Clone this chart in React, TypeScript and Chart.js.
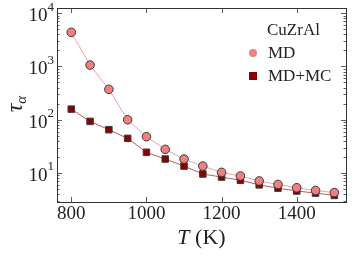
import React, { useEffect, useRef } from "react";
import { Chart, registerables } from "chart.js";

Chart.register(...registerables);

const temperatures = [800, 850, 900, 950, 1000, 1050, 1100, 1150, 1200, 1250, 1300, 1350, 1400, 1450, 1500];
const tauMD = [4360, 1060, 372, 100, 48, 27.8, 18.3, 13.5, 10.3, 8.8, 7.1, 6.1, 5.3, 4.7, 4.3];
const tauMDMC = [158, 93, 65, 44.7, 24.5, 18.3, 13.5, 9.6, 8.4, 7.3, 6.0, 5.2, 4.6, 4.2, 3.8];
const xTicks = [800, 1000, 1200, 1400];
const yDecades = [10, 100, 1000, 10000];
const legendTitle = "CuZrAl";
const seriesLabels = ["MD", "MD+MC"];

const SERIF = "'Liberation Serif', 'Times New Roman', serif";
const FRAME = "#333333";

const framePlugin = {
  id: "mplFrame",
  afterDraw(chart: any) {
    const ctx = chart.ctx;
    const { left, right, top, bottom } = chart.chartArea;
    const xs = chart.scales.x;
    const ys = chart.scales.y;
    ctx.save();
    ctx.strokeStyle = FRAME;
    ctx.lineWidth = 1;
    ctx.strokeRect(Math.round(left) + 0.5, Math.round(top) + 0.5, Math.round(right - left), Math.round(bottom - top));
    ctx.lineWidth = 0.8;
    ctx.beginPath();
    for (const v of xTicks) {
      const px = Math.round(xs.getPixelForValue(v)) + 0.5;
      ctx.moveTo(px, bottom);
      ctx.lineTo(px, bottom - 5);
      ctx.moveTo(px, top);
      ctx.lineTo(px, top + 5);
    }
    const ymin = ys.min, ymax = ys.max;
    for (let e = 0; e <= 4; e++) {
      for (let k = 1; k <= 9; k++) {
        const v = k * Math.pow(10, e);
        if (v < ymin || v > ymax) continue;
        const py = Math.round(ys.getPixelForValue(v)) + 0.5;
        const len = k === 1 ? 5 : 2.5;
        ctx.moveTo(left, py);
        ctx.lineTo(left + len, py);
        ctx.moveTo(right, py);
        ctx.lineTo(right - len, py);
      }
    }
    ctx.stroke();

    ctx.fillStyle = "#222";
    for (const v of yDecades) {
      if (v < ymin || v > ymax) continue;
      const py = ys.getPixelForValue(v);
      const exp = String(Math.round(Math.log10(v)));
      ctx.font = `13px ${SERIF}`;
      ctx.textAlign = "right";
      ctx.textBaseline = "middle";
      const expW = ctx.measureText(exp).width;
      const xr = left - 3;
      ctx.fillText(exp, xr, py - 6);
      ctx.font = `19px ${SERIF}`;
      ctx.fillText("10", xr - expW, py + 3);
    }

    ctx.save();
    ctx.translate(17, 104);
    ctx.rotate(-Math.PI / 2);
    ctx.textBaseline = "alphabetic";
    ctx.textAlign = "left";
    ctx.font = `italic 24px ${SERIF}`;
    const tw = ctx.measureText("τ").width;
    ctx.font = `italic 15px ${SERIF}`;
    const aw = ctx.measureText("α").width;
    const x0 = -(tw + aw) / 2;
    ctx.font = `italic 24px ${SERIF}`;
    ctx.fillText("τ", x0, 5);
    ctx.font = `italic 15px ${SERIF}`;
    ctx.fillText("α", x0 + tw, 9);
    ctx.restore();

    ctx.textBaseline = "middle";
    ctx.textAlign = "left";
    ctx.font = `italic 22px ${SERIF}`;
    const tW = ctx.measureText("T").width;
    ctx.font = `22px ${SERIF}`;
    const rW = ctx.measureText(" (K)").width;
    const cx = (left + right) / 2;
    const sx = cx - (tW + rW) / 2;
    ctx.font = `italic 22px ${SERIF}`;
    ctx.fillText("T", sx, 238);
    ctx.font = `22px ${SERIF}`;
    ctx.fillText(" (K)", sx + tW, 238);

    ctx.font = `17px ${SERIF}`;
    ctx.textAlign = "left";
    ctx.textBaseline = "middle";
    ctx.fillStyle = "#222";
    ctx.fillText(legendTitle, 267, 31);
    const ds = chart.data.datasets;
    ctx.fillText(ds[0].label, 268, 54);
    ctx.fillText(ds[1].label, 268, 77);
    ctx.fillStyle = ds[0].backgroundColor;
    ctx.beginPath();
    ctx.arc(253, 53, 4, 0, Math.PI * 2);
    ctx.fill();
    ctx.fillStyle = ds[1].backgroundColor;
    ctx.fillRect(249, 72, 8, 8);
    ctx.restore();
  },
};

export default function App() {
  const ref = useRef<HTMLCanvasElement>(null);
  useEffect(() => {
    if (!ref.current) return;
    const chart = new Chart(ref.current, {
      type: "line",
      data: {
        labels: temperatures,
        datasets: [
          {
            label: seriesLabels[0],
            data: temperatures.map((t, i) => ({ x: t, y: tauMD[i] })),
            borderColor: "rgba(240,128,128,0.75)",
            borderWidth: 1,
            backgroundColor: "#f08080",
            pointBackgroundColor: "#f08080",
            pointBorderColor: "#3a3a3a",
            pointBorderWidth: 1,
            pointRadius: 4.3,
            pointStyle: "circle",
          },
          {
            label: seriesLabels[1],
            data: temperatures.map((t, i) => ({ x: t, y: tauMDMC[i] })),
            borderColor: "rgba(170,50,50,0.8)",
            borderWidth: 1,
            backgroundColor: "#8b0000",
            pointBackgroundColor: "#8b0000",
            pointBorderColor: "#3a3a3a",
            pointBorderWidth: 1,
            pointRadius: 4.6,
            pointStyle: "rect",
          },
        ],
      },
      options: {
        responsive: false,
        animation: false,
        layout: { padding: { left: 0, top: 8, right: 7, bottom: 0 } },
        plugins: { legend: { display: false }, tooltip: { enabled: false } },
        scales: {
          x: {
            type: "linear",
            min: 762,
            max: 1531,
            grid: { display: false, drawTicks: false },
            border: { display: false },
            afterBuildTicks: (s: any) => {
              s.ticks = xTicks.map((v) => ({ value: v }));
            },
            afterFit: (s: any) => {
              s.height = 55;
            },
            ticks: {
              font: { family: SERIF, size: 19 },
              color: "#222",
              padding: 1,
              maxRotation: 0,
              autoSkip: false,
              callback: (v: any) => String(v),
            },
          },
          y: {
            type: "logarithmic",
            min: 2.86,
            max: 12480,
            grid: { display: false, drawTicks: false },
            border: { display: false },
            afterBuildTicks: (s: any) => {
              s.ticks = yDecades.map((v) => ({ value: v }));
            },
            afterFit: (s: any) => {
              s.width = 57;
            },
            ticks: { display: false },
          },
        },
      },
      plugins: [framePlugin],
    });
    return () => chart.destroy();
  }, []);
  return (
    <div style={{ position: "fixed", left: 0, top: 0, width: 353, height: 257, background: "#fff" }}>
      <canvas ref={ref} width={353} height={257} style={{ display: "block" }} />
    </div>
  );
}
